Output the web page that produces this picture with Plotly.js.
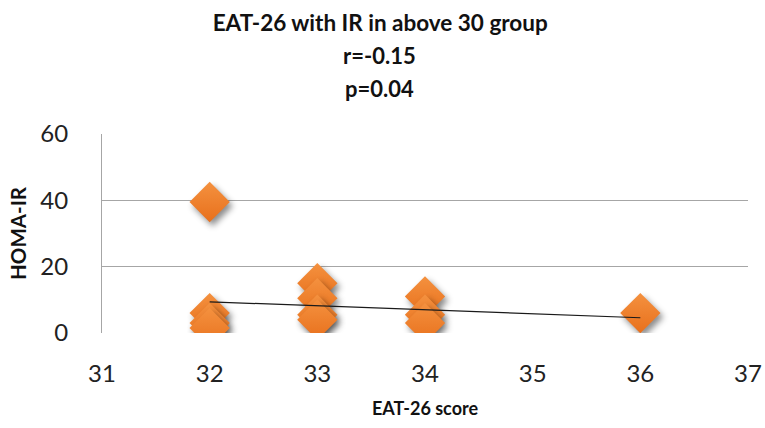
<!DOCTYPE html>
<html>
<head>
<meta charset="utf-8">
<script src="https://cdn.plot.ly/plotly-3.0.1.min.js"></script>
<style>
html,body{margin:0;padding:0;background:#fff;}
#chart{width:765px;height:428px;}
.scatterlayer .trace:first-child .point{filter:drop-shadow(3px 4px 3px rgba(0,0,0,0.45));}
</style>
</head>
<body>
<div id="chart"></div>
<script>
const eatScore = [32, 32, 32, 32, 33, 33, 33, 33, 34, 34, 34, 36];
const homaIR   = [39.5, 6, 3, 1.5, 15, 10.5, 5.5, 4, 11, 5.5, 3, 6];
const trendX = [32, 36];
const trendY = [9.4, 4.6];
const xTicks = [31, 32, 33, 34, 35, 36, 37];
const yTicks = [0, 20, 40, 60];
const titleLines = ['EAT-26 with IR in above 30 group', 'r=-0.15', 'p=0.04'];

const data = [
  {
    x: eatScore, y: homaIR, type: 'scatter', mode: 'markers',
    marker: {symbol: 'diamond', size: 31, color: '#F4913F',
             gradient: {type: 'vertical', color: '#E8701C'}, line: {width: 0}},
    hoverinfo: 'x+y', showlegend: false
  },
  {
    x: trendX, y: trendY, type: 'scatter', mode: 'lines',
    line: {color: '#1a1a1a', width: 1.2}, showlegend: false
  }
];

const layout = {
  width: 765, height: 428,
  margin: {l: 102, r: 17, t: 134, b: 95},
  paper_bgcolor: '#fff', plot_bgcolor: '#fff',
  font: {family: 'Lato, "Open Sans", sans-serif', color: '#222'},
  title: {
    text: '<b>' + titleLines[0] + '</b>',
    font: {size: 22.5, color: '#111'},
    x: 0.497, xref: 'container', xanchor: 'center',
    y: 0.947, yref: 'container', yanchor: 'middle'
  },
  annotations: [
    {text: '<b>' + titleLines[1] + '</b>', xref: 'paper', yref: 'paper',
     x: 0.43, y: 1.392, xanchor: 'center', yanchor: 'middle', showarrow: false,
     font: {size: 22, color: '#111'}},
    {text: '<b>' + titleLines[2] + '</b>', xref: 'paper', yref: 'paper',
     x: 0.43, y: 1.231, xanchor: 'center', yanchor: 'middle', showarrow: false,
     font: {size: 22, color: '#111'}}
  ],
  xaxis: {
    range: [31, 37], tickvals: xTicks, ticktext: xTicks.map(String),
    showgrid: false, zeroline: false, showline: false, ticks: '',
    tickfont: {size: 24, color: '#222'}, ticklabelstandoff: 24,
    title: {text: '<b>EAT-26 score</b>', font: {size: 18, color: '#111'}, standoff: 16}
  },
  yaxis: {
    range: [0, 60], tickvals: yTicks, ticktext: yTicks.map(String),
    showgrid: true, gridcolor: '#a6a6a6', gridwidth: 1,
    zeroline: false, showline: true, linecolor: '#a6a6a6', linewidth: 1,
    ticks: '', tickfont: {size: 24, color: '#222'}, ticklabelstandoff: 28,
    title: {text: '<b>HOMA-IR</b>', font: {size: 20.5, color: '#111'}, standoff: 8}
  }
};

Plotly.newPlot('chart', data, layout, {displayModeBar: false, staticPlot: true});
</script>
</body>
</html>
